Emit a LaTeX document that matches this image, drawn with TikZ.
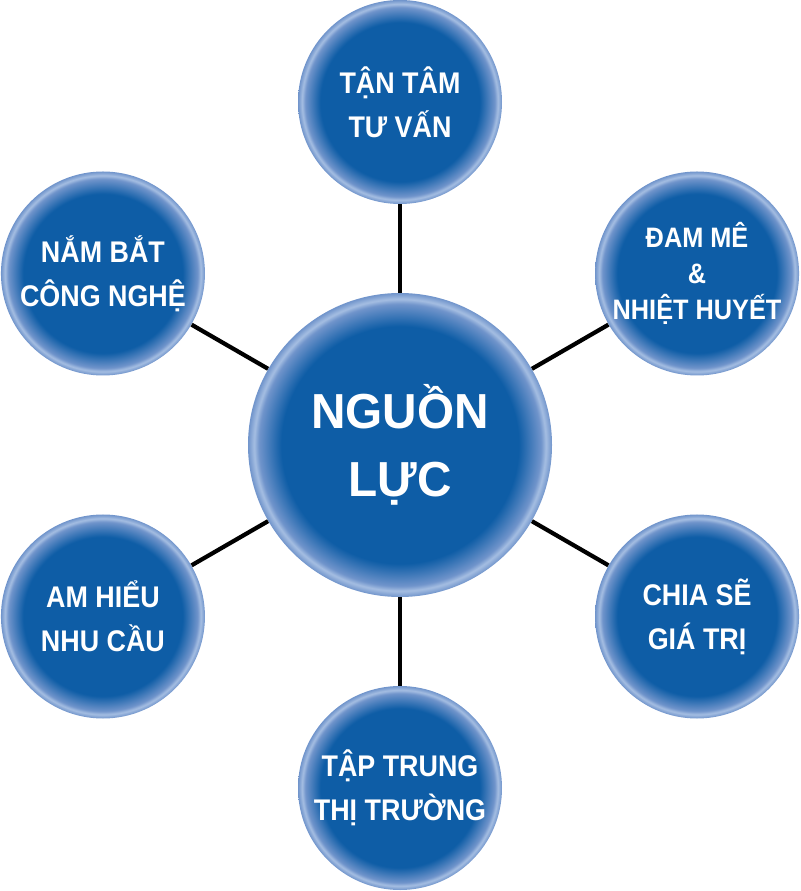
\documentclass[tikz,border=0pt]{standalone}
\usepackage{fontspec}
\newfontfamily\orbfont[FakeStretch=0.9]{Liberation Sans}
\newfontfamily\corefont[FakeStretch=0.97]{Liberation Sans}
\definecolor{orbblue}{RGB}{14,93,166}
\definecolor{orbrim}{RGB}{112,148,203}
\definecolor{orbedge}{RGB}{165,190,226}
\pgfdeclareradialshading{orb}{\pgfpoint{0cm}{0cm}}{color(0bp)=(orbblue); color(19.5bp)=(orbblue); color(23.2bp)=(orbrim); color(24bp)=(orbedge); color(25bp)=(orbrim); color(50bp)=(orbrim)}
\begin{document}
\begin{tikzpicture}[
  orb/.style={circle,shading=orb,text=white,align=center,inner sep=0pt,
    font=\orbfont\bfseries\fontsize{17}{25}\selectfont,minimum size=4.08cm},
  core/.style={orb,minimum size=6.08cm,font=\corefont\bfseries\fontsize{28}{38.5}\selectfont},
  link/.style={line width=2.4pt,black}]
\useasboundingbox (-8,-8.92) rectangle (8,8.9);
% centre
\node[core] (nguon) at (0,0) {NGUỒN\\LỰC};
% ring
\node[orb] (tantam)   at (90:6.86)  {TẬN TÂM\\TƯ VẤN};
\node[orb,font=\orbfont\bfseries\fontsize{16}{20.5}\selectfont]
               (damme)    at (30:6.86)  {ĐAM MÊ\\\&\\NHIỆT HUYẾT};
\node[orb] (chiase)   at (-30:6.86) {CHIA SẼ\\GIÁ TRỊ};
\node[orb] (taptrung) at (-90:6.86) {TẬP TRUNG\\THỊ TRƯỜNG};
\node[orb] (amhieu)   at (210:6.86) {AM HIỂU\\NHU CẦU};
\node[orb] (nambat)   at (150:6.86) {NẮM BẮT\\CÔNG NGHỆ};
% spokes
\foreach \n in {tantam,damme,chiase,taptrung,amhieu,nambat}
  \draw[link] (nguon) -- (\n);
\end{tikzpicture}
\end{document}
